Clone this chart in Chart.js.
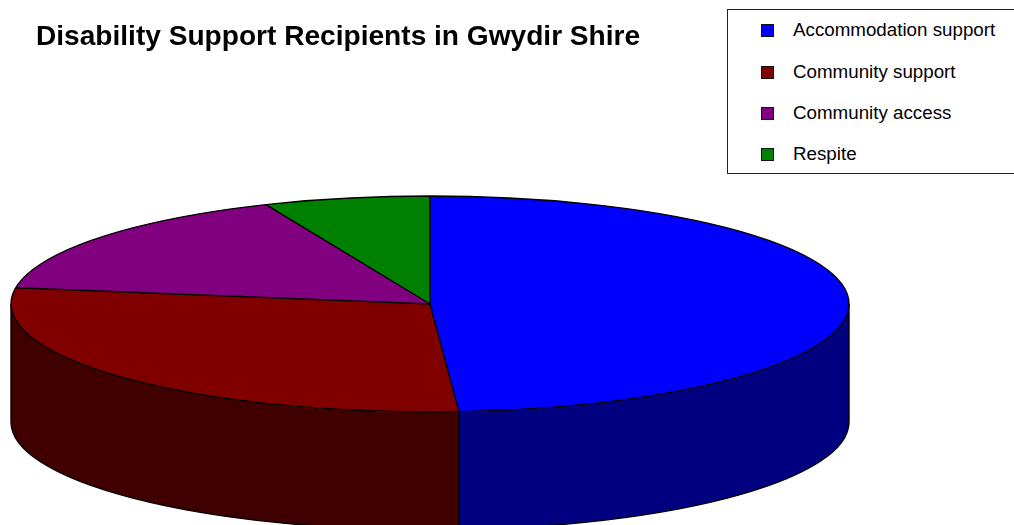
<!DOCTYPE html>
<html>
<head>
<meta charset="utf-8">
<script src="https://cdn.jsdelivr.net/npm/chart.js@4"></script>
<style>
html,body{margin:0;padding:0;background:#fff;width:1014px;height:525px;overflow:hidden}
#wrap{position:relative;width:1014px;height:525px;overflow:hidden}
canvas{position:absolute;left:0;top:0}
#legend{position:absolute;left:727px;top:9px;width:300px;height:163px;border:1px solid #222;box-sizing:content-box;background:#fff;font:18.75px "Liberation Sans",Arial,sans-serif;color:#000}
.row{position:absolute;left:0;height:20px;line-height:20px;white-space:nowrap}
.mark{position:absolute;left:33px;top:4px;width:11px;height:11px;border:1px solid #111;box-sizing:content-box}
.txt{position:absolute;left:65px;top:0}
</style>
</head>
<body>
<div id="wrap">
<canvas id="c" width="1014" height="525"></canvas>
<div id="legend"></div>
</div>
<script>
const chartTitle = 'Disability Support Recipients in Gwydir Shire';
const categories = ['Accommodation support', 'Community support', 'Community access', 'Respite'];
const values = [48.9, 28.5, 16.2, 6.4];
const topColors = ['#0000ff', '#800000', '#800080', '#008000'];
const sideColors = ['#000080', '#400000', '#400040', '#004000'];
const legendRowCenters = [30, 72, 113, 154];

const CX = 430, CY = 304, RX = 419, RY = 108, DEPTH = 118, LINE = 1.4;

function sideWalls(ctx, arcs) {
  const ends = [];
  arcs.forEach((arc, i) => {
    const a = Math.max(arc.startAngle, 0), b = Math.min(arc.endAngle, Math.PI);
    if (b <= a) return;
    ctx.beginPath();
    ctx.ellipse(CX, CY, RX, RY, 0, a, b);
    ctx.ellipse(CX, CY + DEPTH, RX, RY, 0, b, a, true);
    ctx.closePath();
    ctx.fillStyle = sideColors[i];
    ctx.fill();
    ends.push(a, b);
  });
  ctx.strokeStyle = '#000';
  ctx.lineWidth = LINE;
  ctx.beginPath();
  ctx.ellipse(CX, CY + DEPTH, RX, RY, 0, 0, Math.PI);
  ends.forEach(t => {
    const x = CX + RX * Math.cos(t), y = CY + RY * Math.sin(t);
    ctx.moveTo(x, y);
    ctx.lineTo(x, y + DEPTH);
  });
  ctx.stroke();
}

const pie3d = {
  id: 'pie3d',
  beforeDatasetsDraw(chart) {
    const ctx = chart.ctx;
    const arcs = chart.getDatasetMeta(0).data;
    sideWalls(ctx, arcs);
    const k = RY / RX, el = arcs[0];
    ctx.save();
    ctx.setTransform(1, 0, 0, k, CX - el.x, CY - el.y * k);
  },
  afterDatasetsDraw(chart) {
    const ctx = chart.ctx;
    ctx.restore();
    const arcs = chart.getDatasetMeta(0).data;
    ctx.save();
    ctx.strokeStyle = '#000';
    ctx.lineWidth = LINE;
    ctx.beginPath();
    ctx.ellipse(CX, CY, RX, RY, 0, 0, Math.PI * 2);
    arcs.forEach(arc => {
      ctx.moveTo(CX, CY);
      ctx.lineTo(CX + RX * Math.cos(arc.startAngle), CY + RY * Math.sin(arc.startAngle));
    });
    ctx.stroke();
    ctx.restore();
  }
};

new Chart(document.getElementById('c'), {
  type: 'pie',
  data: {
    labels: categories,
    datasets: [{ data: values, backgroundColor: topColors, borderWidth: 0, clip: false }]
  },
  options: {
    responsive: false,
    animation: false,
    radius: RX,
    layout: { padding: { left: 36, top: 0, right: 0, bottom: 0 } },
    plugins: {
      legend: { display: false },
      tooltip: { enabled: false },
      title: {
        display: true,
        text: chartTitle,
        align: 'start',
        color: '#000',
        font: { family: '"Liberation Sans", Arial, sans-serif', size: 28.1, weight: 'bold' },
        padding: { top: 20, bottom: 10 }
      }
    }
  },
  plugins: [pie3d]
});

const legendEl = document.getElementById('legend');
categories.forEach((name, i) => {
  const row = document.createElement('div');
  row.className = 'row';
  row.style.top = (legendRowCenters[i] - 10 - 10) + 'px';
  const mark = document.createElement('span');
  mark.className = 'mark';
  mark.style.background = topColors[i];
  const txt = document.createElement('span');
  txt.className = 'txt';
  txt.textContent = name;
  row.append(mark, txt);
  legendEl.append(row);
});
</script>
</body>
</html>
